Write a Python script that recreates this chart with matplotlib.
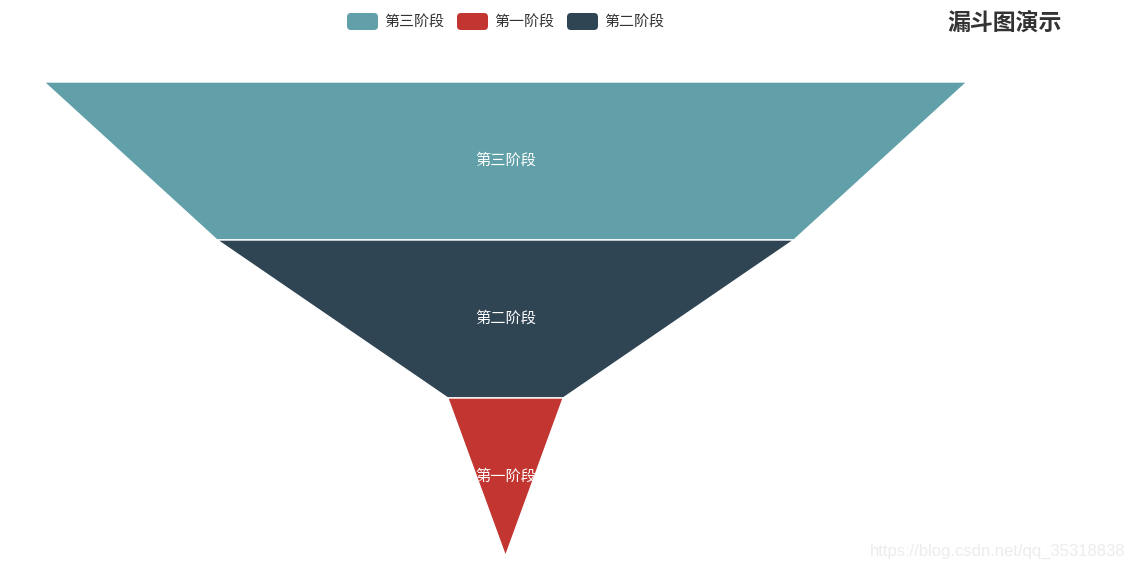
import matplotlib
matplotlib.use("Agg")
import matplotlib.pyplot as plt
from matplotlib.patches import Polygon, FancyBboxPatch

plt.rcParams['font.family'] = ['Noto Sans CJK SC', 'DejaVu Sans']

# data
stages = ['第三阶段', '第二阶段', '第一阶段']
values = [80, 50, 10]
colors = ['#61a0a8', '#2f4554', '#c23531']
legend_order = ['第三阶段', '第一阶段', '第二阶段']
title = '漏斗图演示'

W, H = 1134, 570
fig = plt.figure(figsize=(W / 100, H / 100), dpi=100)
ax = fig.add_axes([0, 0, 1, 1])
ax.set_xlim(0, W)
ax.set_ylim(H, 0)
ax.axis('off')

# funnel geometry
cx = 505.5
top = 82
seg_h = 158
full_w = 923
vmax = max(values)

widths = [v / vmax * full_w for v in values] + [0]
for i, (name, col) in enumerate(zip(stages, colors)):
    y0 = top + i * seg_h
    y1 = y0 + seg_h
    w0, w1 = widths[i], widths[i + 1]
    pts = [(cx - w0 / 2, y0), (cx + w0 / 2, y0), (cx + w1 / 2, y1), (cx - w1 / 2, y1)]
    ax.add_patch(Polygon(pts, closed=True, facecolor=col, edgecolor='white', linewidth=1))
    ax.text(cx, (y0 + y1) / 2 - 0.5, name, color='white', fontsize=11, ha='center', va='center')

# legend
lx = 347
for name in legend_order:
    col = colors[stages.index(name)]
    ax.add_patch(FancyBboxPatch((lx, 13), 31, 17, boxstyle='round,pad=0,rounding_size=4',
                                facecolor=col, edgecolor='none'))
    ax.text(lx + 37, 21.5, name, color='#333333', fontsize=10.8, ha='left', va='center')
    lx += 110

# title
ax.text(1062, 23, title, color='#333333', fontsize=16.5, fontweight='bold', ha='right', va='center')

# watermark
ax.text(1125, 551, 'https://blog.csdn.net/qq_35318838', color='#ececec', fontsize=12,
        family=['Liberation Sans', 'DejaVu Sans'], ha='right', va='center')

fig.savefig('out.png', dpi=100)
